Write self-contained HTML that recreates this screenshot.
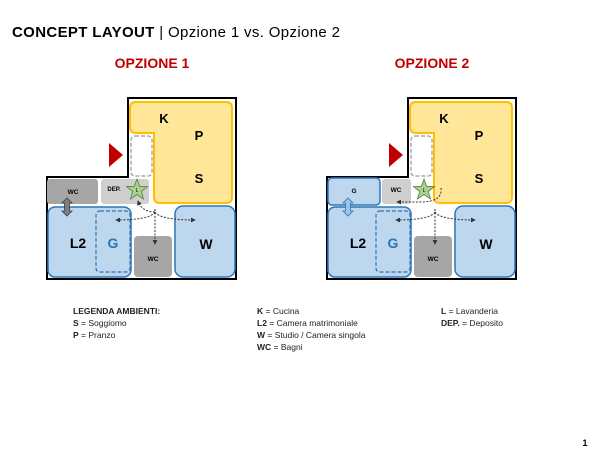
<!DOCTYPE html>
<html><head><meta charset="utf-8"><style>
body{margin:0;width:600px;height:460px;background:#fff;overflow:hidden}
svg{display:block;font-family:"Liberation Sans",sans-serif}
</style></head><body>
<svg width="600" height="460" viewBox="0 0 600 460" xmlns="http://www.w3.org/2000/svg">
<defs>
<marker id="ah" viewBox="0 0 6 6" refX="5" refY="3" markerWidth="5" markerHeight="5" orient="auto"><path d="M0,0 L6,3 L0,6 z" fill="#333"/></marker>
<g id="base">
  <path d="M128,98 H236 V279 H47 V177 H128 Z" fill="#fff" stroke="#000" stroke-width="2"/>
  <path d="M136,102 H226 Q232,102 232,108 V197 Q232,203 226,203 H160 Q154,203 154,197 V133 H136 Q130,133 130,127 V108 Q130,102 136,102 Z" fill="#ffe699" stroke="#ffc000" stroke-width="2"/>
  <rect x="131" y="136" width="21" height="40" rx="4" fill="#fff" stroke="#aaa" stroke-width="1.5" stroke-dasharray="4,2"/>
  <path d="M109,143 L123,155 L109,167 Z" fill="#c00000"/>
  <text x="164" y="123" font-size="13" font-weight="bold" text-anchor="middle">K</text>
  <text x="199" y="140" font-size="13" font-weight="bold" text-anchor="middle">P</text>
  <text x="199" y="183" font-size="13" font-weight="bold" text-anchor="middle">S</text>
  <rect x="48" y="207" width="83" height="70" rx="7" fill="#bdd7ee" stroke="#2e75b6" stroke-width="1.5"/>
  <rect x="96" y="211" width="34" height="61" rx="4" fill="none" stroke="#2e75b6" stroke-width="1.2" stroke-dasharray="4,2"/>
  <text x="78" y="248" font-size="14" font-weight="bold" text-anchor="middle">L2</text>
  <text x="113" y="248" font-size="14" font-weight="bold" fill="#2e75b6" text-anchor="middle">G</text>
  <rect x="134" y="236" width="38" height="41" rx="4" fill="#a6a6a6"/>
  <text x="153" y="261" font-size="6.5" font-weight="bold" text-anchor="middle">WC</text>
  <rect x="175" y="206" width="60" height="71" rx="8" fill="#bdd7ee" stroke="#2e75b6" stroke-width="1.5"/>
  <text x="206" y="249" font-size="14" font-weight="bold" text-anchor="middle">W</text>
  <g fill="none" stroke="#333" stroke-width="1" stroke-dasharray="2,1.5">
    <path d="M155,212 Q150,220 116,220" marker-end="url(#ah)"/>
    <path d="M155,212 Q160,220 195,220" marker-end="url(#ah)"/>
    <path d="M155,209 V244" marker-end="url(#ah)"/>
  </g>
</g>
</defs>
<text x="12" y="37" font-size="15" letter-spacing="0.35"><tspan font-weight="bold">CONCEPT LAYOUT</tspan> | Opzione 1 vs. Opzione 2</text>
<text x="152" y="68" font-size="14" font-weight="bold" fill="#c00000" text-anchor="middle">OPZIONE 1</text>
<text x="432" y="68" font-size="14" font-weight="bold" fill="#c00000" text-anchor="middle">OPZIONE 2</text>

<use href="#base"/>
<rect x="47" y="179" width="51" height="25" rx="3" fill="#a6a6a6"/>
<text x="73" y="194" font-size="6.5" font-weight="bold" text-anchor="middle">WC</text>
<rect x="101" y="179" width="48" height="25" rx="3" fill="#d0cece"/>
<text x="114" y="191" font-size="6" font-weight="bold" text-anchor="middle">DEP.</text>
<polygon points="137,179 139.7,186.3 147.5,186.6 141.4,191.4 143.5,198.9 137,194.5 130.5,198.9 132.6,191.4 126.5,186.6 134.3,186.3" fill="#a9d18e" stroke="#548235" stroke-width="0.8"/>
<text x="137" y="192" font-size="5" text-anchor="middle">L</text>
<path d="M155,212 Q142,212 138,201" fill="none" stroke="#333" stroke-width="1" stroke-dasharray="2,1.5" marker-end="url(#ah)"/>
<path d="M67,198 L72,203 H69.5 V211 H72 L67,216 L62,211 H64.5 V203 H62 Z" fill="#7f7f7f" stroke="#404040" stroke-width="0.8"/>

<g transform="translate(280,0)"><use href="#base"/></g>
<rect x="328" y="178" width="52" height="27" rx="4" fill="#bdd7ee" stroke="#2e75b6" stroke-width="1.5"/>
<text x="354" y="193" font-size="6.5" font-weight="bold" text-anchor="middle">G</text>
<rect x="382" y="179" width="29" height="25" rx="3" fill="#d0cece"/>
<text x="396" y="192" font-size="6.5" font-weight="bold" text-anchor="middle">WC</text>
<polygon points="424,179 426.7,186.3 434.5,186.6 428.4,191.4 430.5,198.9 424,194.5 417.5,198.9 419.6,191.4 413.5,186.6 421.3,186.3" fill="#a9d18e" stroke="#548235" stroke-width="0.8"/>
<text x="424" y="192" font-size="5" text-anchor="middle">L</text>
<path d="M441,188 Q443,202 420,202 H397" fill="none" stroke="#333" stroke-width="1" stroke-dasharray="2,1.5" marker-end="url(#ah)"/>
<path d="M348,198 L353,203 H350.5 V211 H353 L348,216 L343,211 H345.5 V203 H343 Z" fill="#9dc3e6" stroke="#2e75b6" stroke-width="0.8"/>

<g font-size="8.5" fill="#222">
<text x="73" y="314" font-weight="bold">LEGENDA AMBIENTI:</text>
<text x="73" y="326"><tspan font-weight="bold">S</tspan> = Soggiomo</text>
<text x="73" y="338"><tspan font-weight="bold">P</tspan> = Pranzo</text>
<text x="257" y="314"><tspan font-weight="bold">K</tspan> = Cucina</text>
<text x="257" y="326"><tspan font-weight="bold">L2</tspan> = Camera matrimoniale</text>
<text x="257" y="338"><tspan font-weight="bold">W</tspan> = Studio / Camera singola</text>
<text x="257" y="350"><tspan font-weight="bold">WC</tspan> = Bagni</text>
<text x="441" y="314"><tspan font-weight="bold">L</tspan> = Lavanderia</text>
<text x="441" y="326"><tspan font-weight="bold">DEP.</tspan> = Deposito</text>
</g>
<text x="585" y="446" font-size="9" font-weight="bold" text-anchor="middle">1</text>
</svg>
</body></html>
